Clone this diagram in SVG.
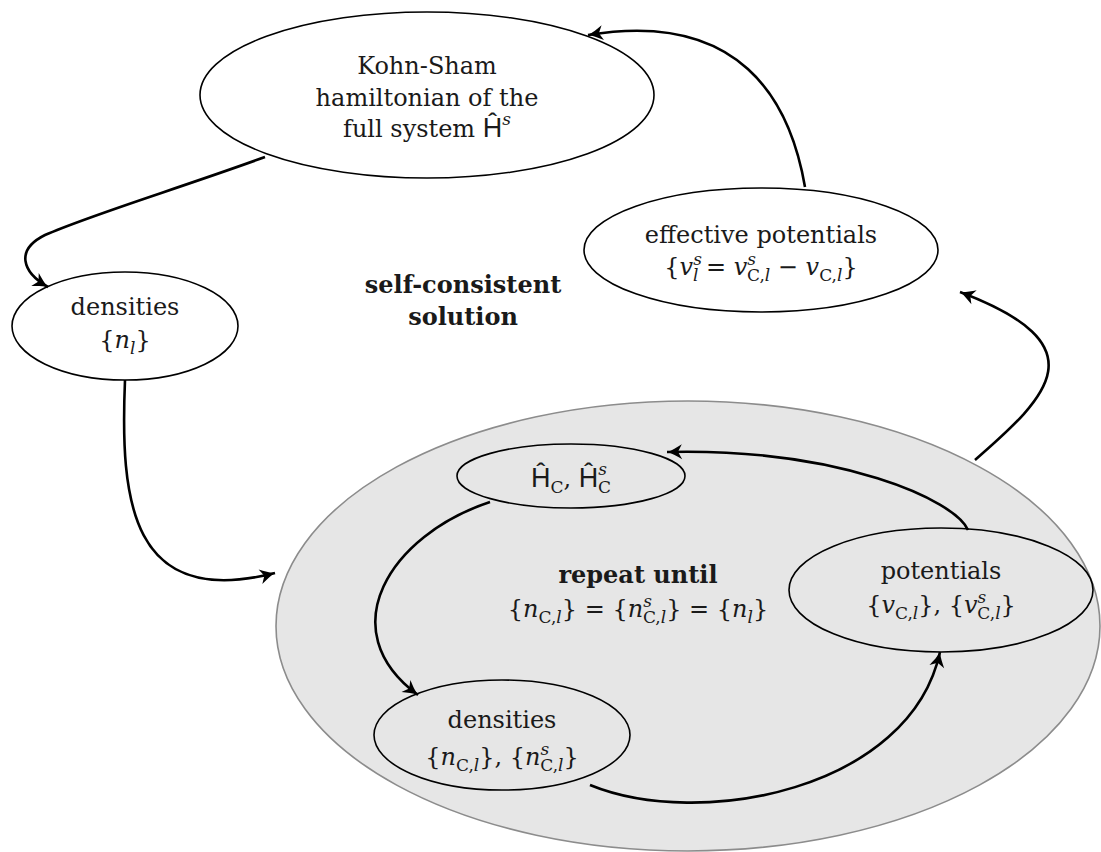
<svg xmlns="http://www.w3.org/2000/svg" width="1101" height="852" viewBox="0 0 1101 852">
<defs>
<marker id="ar" viewBox="-16 -9 18 18" refX="0" refY="0" markerWidth="18" markerHeight="18" markerUnits="userSpaceOnUse" orient="auto">
<path d="M0,0 C-5,-1.5 -10,-4.5 -15,-7.5 L-11,0 L-15,7.5 C-10,4.5 -5,1.5 0,0 z" fill="#000"/>
</marker>
<style>
.nd{fill:#fff;stroke:#000;stroke-width:1.6}
.in{fill:none;stroke:#000;stroke-width:1.6}
.big{fill:#e6e6e6;stroke:#8c8c8c;stroke-width:1.6}
.cn{fill:none;stroke:#000;stroke-width:2.6;marker-end:url(#ar)}
text{font-size:24px;fill:#1a1a1a;text-anchor:middle}
.b{font-weight:bold}
.it{font-style:italic}
.sb{font-size:17px}
.hh{font-size:27px}
</style>
</defs>
<g font-family="DejaVu Serif, serif">
<g id="outer">
<ellipse class="big" cx="688" cy="626" rx="412" ry="225"/>
</g>
<g id="ks">
<ellipse class="nd" cx="427" cy="95" rx="227" ry="83"/>
<text x="427" y="74">Kohn-Sham</text>
<text x="427" y="106">hamiltonian of the</text>
<text x="427" y="137">full system <tspan class="hh" font-family="Liberation Sans, DejaVu Sans, sans-serif">Ĥ</tspan><tspan class="it sb" dy="-12">s</tspan></text>
</g>
<g id="eff">
<ellipse class="nd" cx="761" cy="250" rx="177" ry="62"/>
<text x="761" y="243">effective potentials</text>
<text x="761" y="275">{<tspan class="it">v</tspan><tspan class="it sb" dy="-10">s</tspan><tspan class="it sb" dx="-9" dy="16">l</tspan><tspan dy="-6"> = </tspan><tspan class="it">v</tspan><tspan class="it sb" dy="-10">s</tspan><tspan class="sb" dx="-9" dy="16">C,</tspan><tspan class="it sb">l</tspan><tspan dy="-6"> − </tspan><tspan class="it">v</tspan><tspan class="sb" dy="6">C,</tspan><tspan class="it sb">l</tspan><tspan dy="-6">}</tspan></text>
</g>
<g id="dens1">
<ellipse class="nd" cx="125" cy="326" rx="113" ry="54"/>
<text x="125" y="315">densities</text>
<text x="125" y="348">{<tspan class="it">n</tspan><tspan class="it sb" dy="6">l</tspan><tspan dy="-6">}</tspan></text>
</g>
<g id="scs">
<text class="b" x="463" y="293">self-consistent</text>
<text class="b" x="463" y="325">solution</text>
</g>
<g id="hc">
<ellipse class="in" cx="571" cy="476" rx="114" ry="32"/>
<text x="571" y="487"><tspan class="hh" font-family="Liberation Sans, DejaVu Sans, sans-serif">Ĥ</tspan><tspan class="sb" dy="6">C</tspan><tspan dy="-6">, </tspan><tspan class="hh" font-family="Liberation Sans, DejaVu Sans, sans-serif">Ĥ</tspan><tspan class="it sb" dy="-12">s</tspan><tspan class="sb" dx="-9" dy="18">C</tspan></text>
</g>
<g id="repeat">
<text class="b" x="638" y="583">repeat until</text>
<text x="638" y="617">{<tspan class="it">n</tspan><tspan class="sb" dy="6">C,</tspan><tspan class="it sb">l</tspan><tspan dy="-6">} = {</tspan><tspan class="it">n</tspan><tspan class="it sb" dy="-10">s</tspan><tspan class="sb" dx="-9" dy="16">C,</tspan><tspan class="it sb">l</tspan><tspan dy="-6">} = {</tspan><tspan class="it">n</tspan><tspan class="it sb" dy="6">l</tspan><tspan dy="-6">}</tspan></text>
</g>
<g id="pot">
<ellipse class="in" cx="941" cy="590" rx="152" ry="62"/>
<text x="941" y="579">potentials</text>
<text x="941" y="613">{<tspan class="it">v</tspan><tspan class="sb" dy="6">C,</tspan><tspan class="it sb">l</tspan><tspan dy="-6">}, {</tspan><tspan class="it">v</tspan><tspan class="it sb" dy="-10">s</tspan><tspan class="sb" dx="-9" dy="16">C,</tspan><tspan class="it sb">l</tspan><tspan dy="-6">}</tspan></text>
</g>
<g id="dens2">
<ellipse class="in" cx="502" cy="735" rx="128" ry="55"/>
<text x="502" y="728">densities</text>
<text x="502" y="765">{<tspan class="it">n</tspan><tspan class="sb" dy="6">C,</tspan><tspan class="it sb">l</tspan><tspan dy="-6">}, {</tspan><tspan class="it">n</tspan><tspan class="it sb" dy="-10">s</tspan><tspan class="sb" dx="-9" dy="16">C,</tspan><tspan class="it sb">l</tspan><tspan dy="-6">}</tspan></text>
</g>
<g id="connectors">
<path class="cn" d="M265,157 C180,188 90,215 45,235 C15,250 22,272 48,287"/>
<path class="cn" d="M125,380 C120,500 130,610 275,573"/>
<path class="cn" d="M975,460 C1050,395 1100,345 960,292"/>
<path class="cn" d="M805,187 C790,100 740,10 588,35"/>
<path class="cn" d="M968,530 C955,500 840,448 667,452"/>
<path class="cn" d="M490,502 C390,535 330,630 418,695"/>
<path class="cn" d="M590,785 C700,830 910,790 940,652"/>
</g>
</g>
</svg>
